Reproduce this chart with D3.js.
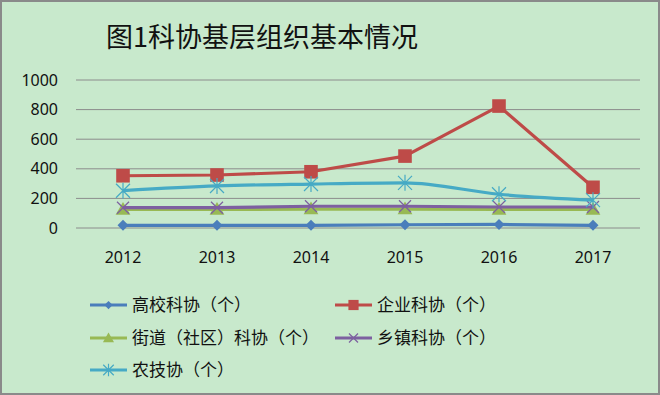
<!DOCTYPE html>
<html>
<head>
<meta charset="utf-8">
<script src="https://cdn.jsdelivr.net/npm/d3@7"></script>
<style>
  body { margin: 0; background: #fff; }
  svg { display: block; font-family: "Noto Sans CJK SC", "DejaVu Sans", sans-serif; }
</style>
</head>
<body>
<div id="chart"></div>
<script>
const years = ["2012", "2013", "2014", "2015", "2016", "2017"];
const yTicks = [0, 200, 400, 600, 800, 1000];
const seriesNames = ["高校科协（个）", "企业科协（个）", "街道（社区）科协（个）", "乡镇科协（个）", "农技协（个）"];
const gaoxiao = [18, 18, 18, 22, 24, 18];
const qiye = [353, 358, 380, 486, 824, 275];
const jiedao = [125, 125, 128, 128, 125, 125];
const xiangzhen = [137, 137, 147, 147, 142, 142];
const nongji = [252, 284, 297, 305, 228, 188];
const title = "图1科协基层组织基本情况";

const W = 660, H = 395;
const colors = ["#4a7ebb", "#be4b48", "#98b954", "#7d60a0", "#46aac5"];
const markers = ["diamond", "square", "triangle", "x", "star"];
const values = [gaoxiao, qiye, jiedao, xiangzhen, nongji];

const svg = d3.select("#chart").append("svg")
  .attr("width", W).attr("height", H);

svg.append("rect")
  .attr("x", 1).attr("y", 1).attr("width", W - 2).attr("height", H - 2)
  .attr("fill", "#c8e9cc").attr("stroke", "#8a8a8a").attr("stroke-width", 2);

svg.append("text")
  .attr("x", 262).attr("y", 47)
  .attr("text-anchor", "middle")
  .attr("font-size", 27)
  .attr("font-weight", 400)
  .attr("fill", "#111")
  .text(title);

const x = d3.scaleBand().domain(years).range([76, 640]);
const y = d3.scaleLinear().domain([0, 1000]).range([228, 80]);

// gridlines
svg.append("g")
  .selectAll("line")
  .data(yTicks)
  .join("line")
    .attr("x1", 76).attr("x2", 640)
    .attr("y1", d => y(d)).attr("y2", d => y(d))
    .attr("stroke", "#8c8c8c").attr("stroke-width", 1);

const yAxis = svg.append("g")
  .attr("transform", "translate(66,0)")
  .call(d3.axisLeft(y).tickValues(yTicks).tickFormat(d3.format("d")).tickSize(0).tickPadding(8));
yAxis.select(".domain").remove();
yAxis.selectAll("text").attr("font-size", 16).attr("fill", "#111")
  .attr("font-family", "\"Noto Sans\", sans-serif");

const xAxis = svg.append("g")
  .attr("transform", "translate(0,246)")
  .call(d3.axisBottom(x).tickSize(0).tickPadding(6));
xAxis.select(".domain").remove();
xAxis.selectAll("text").attr("font-size", 16).attr("fill", "#111")
  .attr("font-family", "\"Noto Sans\", sans-serif");

const cx = d => x(d) + x.bandwidth() / 2;

function drawMarker(g, kind, color, px, py, s) {
  if (kind === "diamond") {
    const r = 5.5 * s;
    g.append("path").attr("d", `M${px},${py - r}L${px + r},${py}L${px},${py + r}L${px - r},${py}Z`)
      .attr("fill", color);
  } else if (kind === "square") {
    g.append("path").attr("d", d3.symbol(d3.symbolSquare, 185 * s * s)())
      .attr("transform", `translate(${px},${py})`).attr("fill", color);
  } else if (kind === "triangle") {
    g.append("path").attr("d", d3.symbol(d3.symbolTriangle, 95 * s * s)())
      .attr("transform", `translate(${px},${py + 1})`).attr("fill", color);
  } else if (kind === "x") {
    const r = 6 * s;
    g.append("path").attr("d", `M${px - r},${py - r}L${px + r},${py + r}M${px - r},${py + r}L${px + r},${py - r}`)
      .attr("stroke", color).attr("stroke-width", 1.2).attr("fill", "none");
  } else if (kind === "star") {
    const r = 7 * s;
    g.append("path").attr("d",
      `M${px - r},${py - r}L${px + r},${py + r}M${px - r},${py + r}L${px + r},${py - r}M${px},${py - r - 1}L${px},${py + r + 1}`)
      .attr("stroke", color).attr("stroke-width", 1.2).attr("fill", "none");
  }
}

values.forEach((vals, i) => {
  const g = svg.append("g");
  const line = d3.line()
    .x((d, j) => cx(years[j]))
    .y(d => y(d))
    .curve(i === 4 ? d3.curveMonotoneX : d3.curveLinear);
  g.append("path")
    .attr("d", line(vals))
    .attr("fill", "none")
    .attr("stroke", colors[i])
    .attr("stroke-width", 3.2)
    .attr("stroke-linejoin", "round");
  vals.forEach((v, j) => drawMarker(g, markers[i], colors[i], cx(years[j]), y(v), 1));
});

// legend
const legendPos = [[90, 305], [335, 305], [90, 338], [335, 338], [90, 370]];
seriesNames.forEach((name, i) => {
  const [lx, ly] = legendPos[i];
  const g = svg.append("g");
  g.append("line")
    .attr("x1", lx).attr("x2", lx + 37).attr("y1", ly).attr("y2", ly)
    .attr("stroke", colors[i]).attr("stroke-width", 3.2);
  drawMarker(g, markers[i], colors[i], lx + 18.5, ly, 0.75);
  g.append("text")
    .attr("x", lx + 42).attr("y", ly + 6)
    .attr("font-size", 17)
    .attr("fill", "#111")
    .text(name);
});
</script>
</body>
</html>
